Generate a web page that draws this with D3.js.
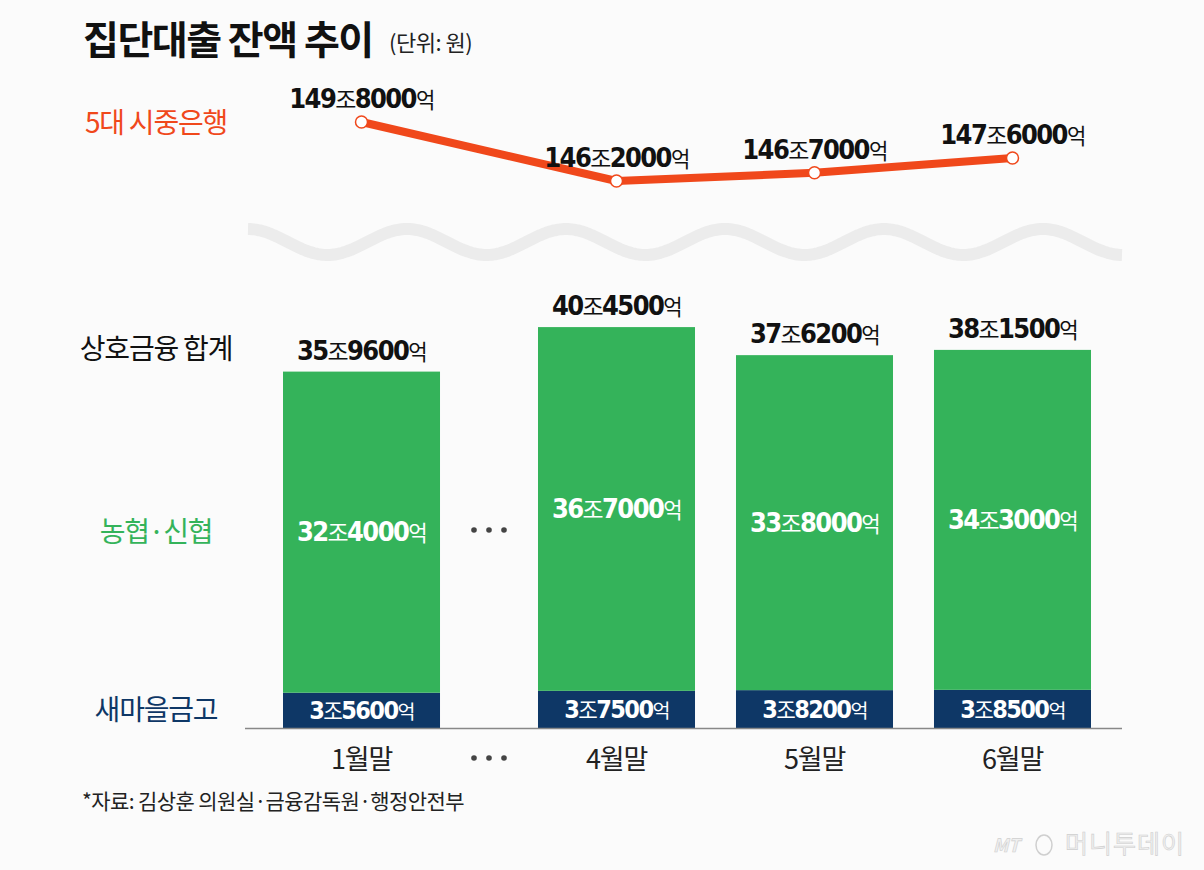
<!DOCTYPE html>
<html>
  <head>
    <meta charset="utf-8" />
    <title>집단대출 잔액 추이</title>
    <style>
      html,
      body {
        margin: 0;
        padding: 0;
        background-color: #fbfbfb;
      }
      svg {
        display: block;
        font-family: "Noto Sans CJK KR", "Noto Sans", sans-serif;
      }
      .num {
        font-family: "Liberation Sans Narrow", "DejaVu Sans Condensed", "Roboto", sans-serif;
        font-weight: bold;
      }
    </style>
  </head>
  <body>
    <script src="https://cdn.jsdelivr.net/npm/d3@7"></script>
    <script>
      // 단위: 조원
      var months = ["1월말", "4월말", "5월말", "6월말"];
      var bankLoans = [149.8, 146.2, 146.7, 147.6];   // 5대 시중은행
      var saemaul = [3.56, 3.75, 3.82, 3.85];         // 새마을금고
      var nonghyup = [32.4, 36.7, 33.8, 34.3];        // 농협·신협

      var w = 1204;
      var h = 870;
      var baseY = 728;
      var gapShift = 57; // 1월말 뒤 "..." 자리

      var orange = "#f0481b";
      var green = "#34b35a";
      var navy = "#0e3766";

      var rows = months.map(function (m, i) {
        return {
          month: m,
          bank: bankLoans[i],
          saemaul: saemaul[i],
          nonghyup: nonghyup[i],
          total: saemaul[i] + nonghyup[i]
        };
      });

      var svg = d3
        .select("body")
        .append("svg")
        .attr("width", w)
        .attr("height", h)
        .attr("viewBox", "0 0 " + w + " " + h);

      svg.append("rect")
        .attr("width", w)
        .attr("height", h)
        .attr("fill", "#fbfbfb");

      var band = d3.scaleBand()
        .domain(months)
        .range([283, 1034])
        .paddingInner(0.207)
        .paddingOuter(0);

      function xLeft(d, i) {
        return band(d.month) + (i > 0 ? gapShift : 0);
      }
      function xMid(d, i) {
        return xLeft(d, i) + band.bandwidth() / 2;
      }

      var yBar = d3.scaleLinear().domain([0, 45]).range([baseY, 282]);
      var yLine = d3.scaleLinear()
        .domain(d3.extent(bankLoans))
        .range([181, 122]);

      // "149조8000억"
      function addAmount(sel, v, size) {
        var jo = Math.floor(v);
        var eok = Math.round((v - jo) * 10000);
        var eokStr = ("0000" + eok).slice(-4);
        sel.attr("font-size", size).attr("letter-spacing", -1.6);
        sel.append("tspan").attr("class", "num").text(jo);
        sel.append("tspan").attr("font-size", size * 0.85).attr("font-weight", 400).text("조");
        sel.append("tspan").attr("class", "num").text(eokStr);
        sel.append("tspan").attr("font-size", size * 0.78).attr("font-weight", 400).text("억");
      }

      // title
      svg.append("text")
        .attr("x", 83)
        .attr("y", 54)
        .attr("font-size", 39)
        .attr("font-weight", "bold")
        .attr("letter-spacing", -1.5)
        .attr("fill", "#111")
        .text("집단대출 잔액 추이");

      svg.append("text")
        .attr("x", 389)
        .attr("y", 51)
        .attr("font-size", 22)
        .attr("letter-spacing", -0.5)
        .attr("fill", "#222")
        .text("(단위: 원)");

      // left labels
      var sideLabels = [
        { text: "5대 시중은행", y: 133, color: orange },
        { text: "상호금융 합계", y: 359, color: "#111" },
        { text: "농협·신협", y: 542, color: green },
        { text: "새마을금고", y: 720, color: navy }
      ];
      svg.selectAll(".side")
        .data(sideLabels)
        .enter()
        .append("text")
        .attr("class", "side")
        .attr("x", 156)
        .attr("y", function (d) { return d.y; })
        .attr("text-anchor", "middle")
        .attr("font-size", 28)
        .attr("letter-spacing", -1.2)
        .attr("fill", function (d) { return d.color; })
        .text(function (d) { return d.text; });

      // wave break
      var waveX0 = 248, waveX1 = 1122, waveC = 242, waveA = 13, waveP = 159;
      var wavePts = d3.range(waveX0, waveX1 + 1, 2).map(function (x) {
        return [x, waveC - waveA * Math.cos(2 * Math.PI * (x - waveX0) / waveP)];
      });
      svg.append("path")
        .attr("d", d3.line().curve(d3.curveBasis)(wavePts))
        .attr("fill", "none")
        .attr("stroke", "#ececec")
        .attr("stroke-width", 12);

      // line: 5대 시중은행
      var line = d3.line()
        .x(function (d, i) { return xMid(d, i); })
        .y(function (d) { return yLine(d.bank); });

      svg.append("path")
        .datum(rows)
        .attr("d", line)
        .attr("fill", "none")
        .attr("stroke", orange)
        .attr("stroke-width", 8)
        .attr("stroke-linejoin", "round");

      svg.selectAll(".dot")
        .data(rows)
        .enter()
        .append("circle")
        .attr("class", "dot")
        .attr("cx", xMid)
        .attr("cy", function (d) { return yLine(d.bank); })
        .attr("r", 6)
        .attr("fill", "#fff")
        .attr("stroke", orange)
        .attr("stroke-width", 1.5);

      svg.selectAll(".lineLabel")
        .data(rows)
        .enter()
        .append("text")
        .attr("class", "lineLabel")
        .attr("x", xMid)
        .attr("y", function (d) { return yLine(d.bank) - 14; })
        .attr("text-anchor", "middle")
        .attr("fill", "#111")
        .each(function (d) { addAmount(d3.select(this), d.bank, 27); });

      // stacked bars
      svg.selectAll(".barNav")
        .data(rows)
        .enter()
        .append("rect")
        .attr("class", "barNav")
        .attr("x", xLeft)
        .attr("y", function (d) { return yBar(d.saemaul); })
        .attr("width", band.bandwidth())
        .attr("height", function (d) { return baseY - yBar(d.saemaul); })
        .attr("fill", navy);

      svg.selectAll(".barGreen")
        .data(rows)
        .enter()
        .append("rect")
        .attr("class", "barGreen")
        .attr("x", xLeft)
        .attr("y", function (d) { return yBar(d.total); })
        .attr("width", band.bandwidth())
        .attr("height", function (d) { return yBar(d.saemaul) - yBar(d.total); })
        .attr("fill", green);

      svg.selectAll(".totLabel")
        .data(rows)
        .enter()
        .append("text")
        .attr("class", "totLabel")
        .attr("x", xMid)
        .attr("y", function (d) { return yBar(d.total) - 12; })
        .attr("text-anchor", "middle")
        .attr("fill", "#111")
        .each(function (d) { addAmount(d3.select(this), d.total, 27); });

      svg.selectAll(".greenLabel")
        .data(rows)
        .enter()
        .append("text")
        .attr("class", "greenLabel")
        .attr("x", xMid)
        .attr("y", function (d) { return (yBar(d.total) + yBar(d.saemaul)) / 2 + 9; })
        .attr("text-anchor", "middle")
        .attr("fill", "#fff")
        .each(function (d) { addAmount(d3.select(this), d.nonghyup, 27); });

      svg.selectAll(".navLabel")
        .data(rows)
        .enter()
        .append("text")
        .attr("class", "navLabel")
        .attr("x", xMid)
        .attr("y", function (d) { return (baseY + yBar(d.saemaul)) / 2 + 9; })
        .attr("text-anchor", "middle")
        .attr("fill", "#fff")
        .each(function (d) { addAmount(d3.select(this), d.saemaul, 25); });

      // baseline
      svg.append("line")
        .attr("x1", 245)
        .attr("x2", 1122)
        .attr("y1", baseY + 0.5)
        .attr("y2", baseY + 0.5)
        .attr("stroke", "#888")
        .attr("stroke-width", 1.5);

      // x labels
      svg.selectAll(".month")
        .data(rows)
        .enter()
        .append("text")
        .attr("class", "month")
        .attr("x", xMid)
        .attr("y", 769)
        .attr("text-anchor", "middle")
        .attr("font-size", 27)
        .attr("letter-spacing", -1.2)
        .attr("fill", "#222")
        .text(function (d) { return d.month; });

      // ellipsis between 1월말 and 4월말
      var gapMid = (xLeft(rows[0], 0) + band.bandwidth() + xLeft(rows[1], 1)) / 2;
      [530, 758].forEach(function (yy) {
        svg.selectAll(null)
          .data([-15, 0, 15])
          .enter()
          .append("circle")
          .attr("cx", function (d) { return gapMid + d; })
          .attr("cy", yy)
          .attr("r", 2.8)
          .attr("fill", "#444");
      });

      // source
      svg.append("text")
        .attr("x", 82)
        .attr("y", 809)
        .attr("font-size", 21)
        .attr("letter-spacing", -0.6)
        .attr("fill", "#222")
        .text("*자료: 김상훈 의원실·금융감독원·행정안전부");

      // watermark
      var wm = svg.append("g").attr("fill", "#f0f0f0").attr("stroke", "#cfcfcf").attr("stroke-width", 0.6);
      wm.append("text")
        .attr("x", 993)
        .attr("y", 852)
        .attr("font-size", 18)
        .attr("font-style", "italic")
        .attr("font-weight", "bold")
        .text("MT");
      wm.append("text")
        .attr("x", 1065)
        .attr("y", 853)
        .attr("font-size", 25)
        .attr("letter-spacing", 1)
        .text("머니투데이");
      wm.append("ellipse")
        .attr("cx", 1044)
        .attr("cy", 845)
        .attr("rx", 8)
        .attr("ry", 10)
        .attr("fill", "none")
        .attr("stroke-width", 1.5);
    </script>
  </body>
</html>
